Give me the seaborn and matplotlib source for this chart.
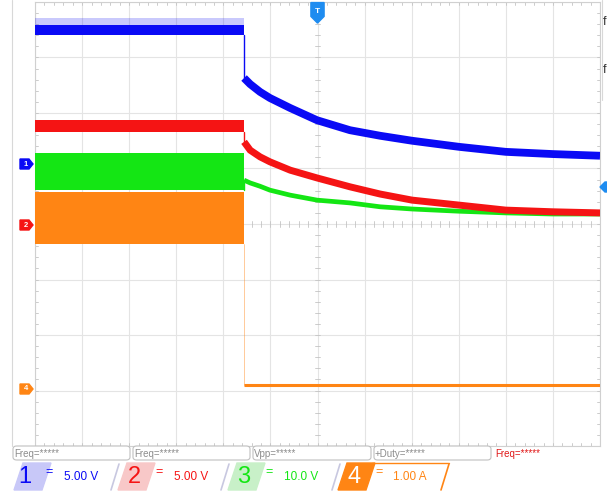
#!/usr/bin/env python3
"""
Oscilloscope capture: 4 channels, load step at ~4.4 div
"""

import pandas as pd
import matplotlib.pyplot as plt
import matplotlib.patches as mpatches
import seaborn as sns

sns.set_style('white')
plt.rcParams['font.family'] = ['Liberation Sans Narrow', 'Liberation Sans', 'DejaVu Sans']

# Screen is 12 x 8 divisions; values are in divisions
t_step = 4.44
t_post = [4.44, 4.57, 4.78, 4.99, 5.42, 5.99, 6.69, 7.33, 8.01, 9.01, 10.0, 11.0, 12.0]

ch1_post = [6.63, 6.52, 6.38, 6.27, 6.09, 5.87, 5.69, 5.59, 5.50, 5.39, 5.30, 5.26, 5.23]
ch2_post = [5.48, 5.33, 5.21, 5.12, 4.97, 4.83, 4.67, 4.54, 4.43, 4.34, 4.25, 4.22, 4.20]
ch3_post = [4.79, 4.74, 4.68, 4.61, 4.52, 4.43, 4.38, 4.31, 4.27, 4.23, 4.20, 4.18, 4.18]
ch4_post = [1.10, 1.10, 1.10, 1.10, 1.10, 1.10, 1.10, 1.10, 1.10, 1.10, 1.10, 1.10, 1.10]

# pre-step envelopes (bottom, top) of the noisy traces
ch1_pre = (7.41, 7.59)
ch1_spike = 7.72
ch2_pre = (5.66, 5.87)
ch3_pre = (4.61, 5.28)
ch4_pre = (3.64, 4.58)

ch_names = ['1', '2', '3', '4']
ch_scales = ['5.00 V', '5.00 V', '10.0 V', '1.00 A']
meas_labels = ['Freq=*****', 'Freq=*****', 'Vpp=*****', '+Duty=*****', 'Freq=*****']

colors = {'1': '#0a0af5', '2': '#f51414', '3': '#14e614', '4': '#ff8514'}
light = {'1': '#c8c8f8', '2': '#f8c8c8', '3': '#c8f0c8', '4': '#ff8514'}

W, H = 607, 493
fig = plt.figure(figsize=(W / 100, H / 100), dpi=100)
ax = fig.add_axes([35 / W, 1 - 446 / H, 565 / W, 444 / H])


def fx(px):
    return px / W


def fy(py):
    return 1 - py / H


# grid
for i in range(13):
    ax.axvline(i, color='#e4e4e4', lw=0.8, zorder=0)
for j in range(9):
    ax.axhline(j, color='#e4e4e4', lw=0.8, zorder=0)

# minor ticks on border and on centre cross
tick_c = '#c4c4c4'
for k in range(61):
    x = k * 0.2
    for y0, dy in [(0, 0.06), (8, -0.06), (4, 0.05), (4, -0.05)]:
        ax.plot([x, x], [y0, y0 + dy], color=tick_c, lw=0.6, zorder=1)
for k in range(41):
    y = k * 0.2
    for x0, dx in [(0, 0.06), (12, -0.06), (6, 0.05), (6, -0.05)]:
        ax.plot([x0, x0 + dx], [y, y], color=tick_c, lw=0.6, zorder=1)

# pre-step noisy bands
ax.fill_between([0, t_step], ch1_pre[1], ch1_spike, color=colors['1'], alpha=0.22, lw=0, zorder=3)
ax.fill_between([0, t_step], *ch1_pre, color=colors['1'], lw=0, zorder=4)
ax.fill_between([0, t_step], *ch4_pre, color=colors['4'], lw=0, zorder=3)
ax.fill_between([0, t_step], *ch3_pre, color=colors['3'], lw=0, zorder=4)
ax.fill_between([0, t_step], *ch2_pre, color=colors['2'], lw=0, zorder=4)

# step edges
ax.plot([t_step, t_step], [ch1_pre[0], ch1_post[0]], color=colors['1'], lw=1.0, zorder=4)
ax.plot([t_step, t_step], [ch2_pre[0], ch2_post[0]], color=colors['2'], lw=1.0, zorder=4)
ax.plot([t_step, t_step], [ch3_pre[0], ch3_post[0]], color=colors['3'], lw=1.0, zorder=4)
ax.plot([t_step, t_step], [ch4_pre[0], ch4_post[0]], color=colors['4'], lw=0.6, alpha=0.5, zorder=3)

# post-step decays
post = pd.DataFrame({'t': t_post * 4,
                     'v': ch1_post + ch2_post + ch3_post + ch4_post,
                     'ch': sum([[c] * len(t_post) for c in ch_names], [])})
widths = {'1': 5.6, '2': 5.0, '3': 3.4, '4': 2.2}
order = {'1': 5, '2': 6, '3': 5, '4': 5}
for c in ['4', '3', '2', '1']:
    sns.lineplot(data=post[post['ch'] == c], x='t', y='v', color=colors[c],
                 lw=widths[c], ax=ax, zorder=order[c], legend=False,
                 solid_capstyle='butt', solid_joinstyle='miter')

ax.set_xlim(0, 12)
ax.set_ylim(0, 8)
ax.set_xticks([])
ax.set_yticks([])
ax.set_xlabel('')
ax.set_ylabel('')
for s in ax.spines.values():
    s.set_color('#d0d0d0')
    s.set_linewidth(0.8)

# trigger marker at top
ax.add_patch(mpatches.Polygon([[5.86, 7.99], [6.14, 7.99], [6.14, 7.74], [6.0, 7.62], [5.86, 7.74]],
                              closed=True, color='#1e8cf0', zorder=8, clip_on=False))
ax.text(6.0, 7.82, 'T', color='white', fontsize=6, ha='center', va='center', fontweight='bold', zorder=9)

# left frame line
fig.add_artist(plt.Line2D([fx(12), fx(12)], [fy(0), fy(446)], color='#d8d8d8', lw=0.8))
# right frame line near top right panel
fig.add_artist(plt.Line2D([fx(602), fx(602)], [fy(0), fy(100)], color='#d8d8d8', lw=0.8))
fig.text(fx(603), fy(22), 'f', fontsize=9, color='#333333', va='center')
fig.text(fx(603), fy(70), 'f', fontsize=9, color='#333333', va='center')

# channel offset markers on the left
marker_y = {'1': 164, '2': 225, '4': 389}
for c, py in marker_y.items():
    pts = [(20, py - 5), (29, py - 5), (33, py), (29, py + 5), (20, py + 5)]
    fig.add_artist(mpatches.Polygon([(fx(a), fy(b)) for a, b in pts], closed=True, color=colors[c]))
    fig.text(fx(25.5), fy(py), c, fontsize=5.5, color='white', ha='center', va='center', fontweight='bold')

# trigger level marker on the right
pts = [(600, 187), (605, 182), (607, 182), (607, 192), (605, 192)]
fig.add_artist(mpatches.Polygon([(fx(a), fy(b)) for a, b in pts], closed=True, color='#1e8cf0'))

# measurement boxes
box_x = [12, 132, 252, 373, 493]
for i, lab in enumerate(meas_labels):
    x0 = box_x[i]
    x1 = box_x[i + 1] if i + 1 < len(box_x) else 612
    col = '#e01818' if i == 4 else '#8c8c8c'
    if i < 4:
        fig.add_artist(mpatches.FancyBboxPatch((fx(x0 + 1), fy(460)), fx(x1 - x0 - 3), (460 - 446) / H,
                                               boxstyle='round,pad=0,rounding_size=0.006',
                                               fc='white', ec='#c0c0c0', lw=0.8))
    fig.text(fx(x0 + 2), fy(454), lab, fontsize=7, color=col, va='center')

# channel scale labels
tag_x = [14, 118, 228, 338]
num_x = [25, 134, 244, 354]
eq_x = [49, 159, 269, 379]
val_x = [81, 191, 301, 410]
sep_x = [115, 225, 336, 445]
for i, c in enumerate(ch_names):
    x0 = tag_x[i]
    pts = [(x0, 490), (x0 + 9, 463), (x0 + 37, 463), (x0 + 28, 490)]
    fig.add_artist(mpatches.Polygon([(fx(a), fy(b)) for a, b in pts], closed=True, color=light[c]))
    fig.text(fx(num_x[i]), fy(477), c, fontsize=17, color='white' if c == '4' else colors[c],
             ha='center', va='center')
    fig.text(fx(eq_x[i]), fy(472), '=', fontsize=9, color=colors[c], ha='center', va='center')
    fig.text(fx(val_x[i]), fy(477), ch_scales[i], fontsize=8.5, color=colors[c], ha='center', va='center')
    sep_col = '#ff8514' if c == '4' else '#c8c8e0'
    fig.add_artist(plt.Line2D([fx(sep_x[i] - 4), fx(sep_x[i] + 4)], [fy(490), fy(464)], color=sep_col, lw=1.2))
fig.add_artist(plt.Line2D([fx(372), fx(449)], [fy(463), fy(463)], color='#ff8514', lw=1.0))

plt.savefig('out.png', dpi=100)
